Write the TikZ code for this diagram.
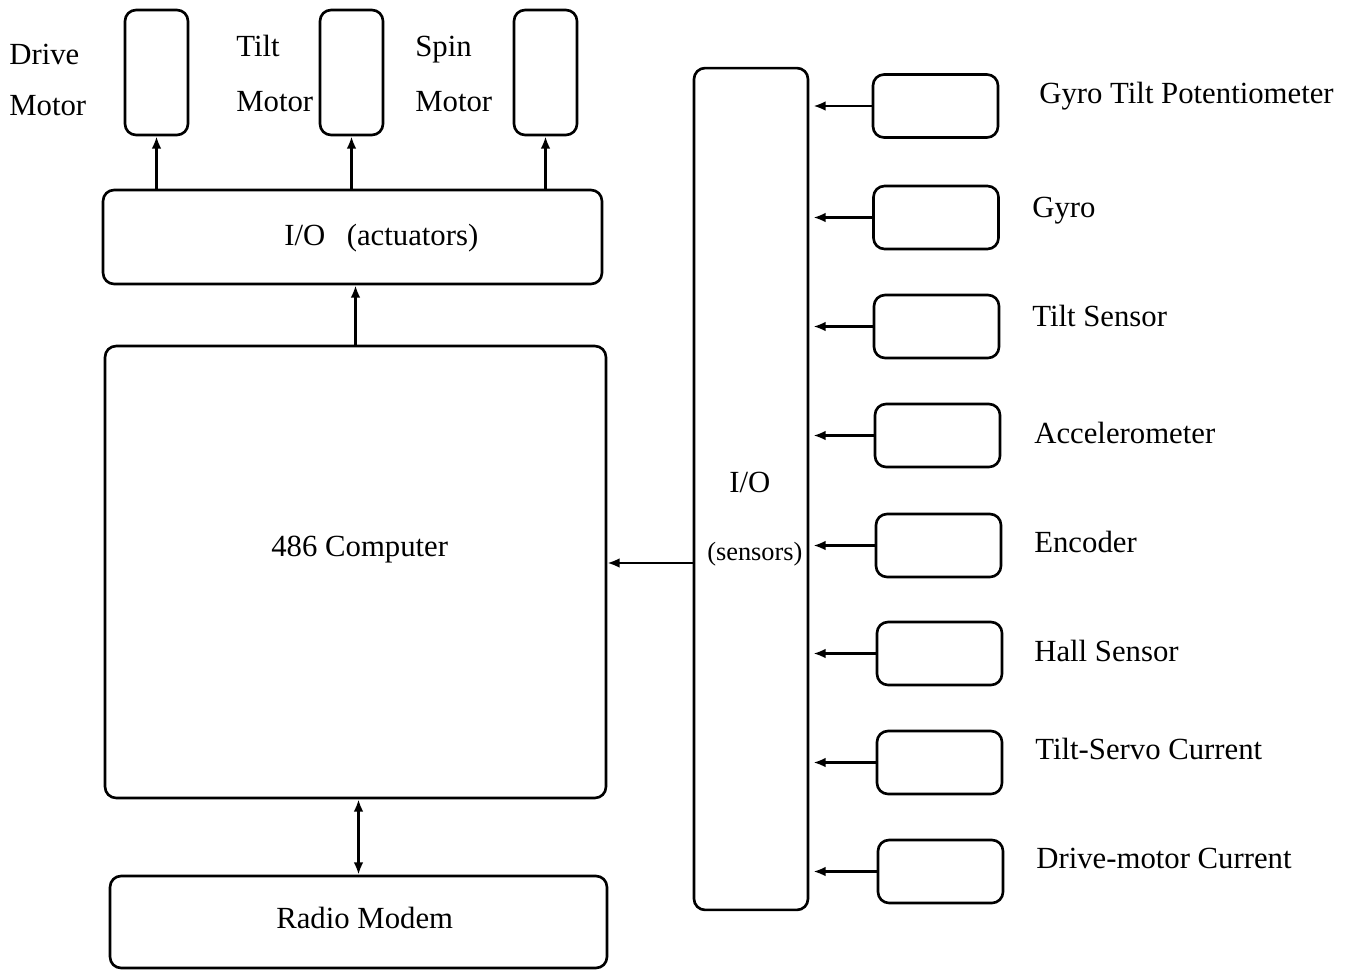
\documentclass[tikz,border=0pt]{standalone}
\usepackage{fontspec}
\setmainfont{Liberation Serif}
\usetikzlibrary{arrows.meta}
\begin{document}
\begin{tikzpicture}[x=0.02cm,y=-0.02cm,
  line width=1.5pt,
  box/.style={draw, rounded corners=0.22cm, inner sep=0pt},
  motorbox/.style={box, minimum width=1.26cm, minimum height=2.5cm},
  sensbox/.style={box, minimum width=2.5cm, minimum height=1.26cm},
  lab/.style={anchor=base west, inner sep=0pt, font=\fontsize{17.5}{20}\selectfont},
  arr/.style={-{Latex[length=7pt,width=5.5pt]}},
  darr/.style={{Latex[length=7pt,width=5.5pt]}-{Latex[length=7pt,width=5.5pt]}}]
\useasboundingbox (0,0) rectangle (1348,973);
% motors
\node[motorbox] (drive) at (156.5,72.5) {};
\node[motorbox] (tilt) at (351.5,72.5) {};
\node[motorbox] (spin) at (545.5,72.5) {};
\node[lab] (ldrive1) at (8,65) {Drive};
\node[lab] (ldrive2) at (8,116) {Motor};
\node[lab] (ltilt1) at (235,57) {Tilt};
\node[lab] (ltilt2) at (235,112) {Motor};
\node[lab] (lspin1) at (414,57) {Spin};
\node[lab] (lspin2) at (414,112) {Motor};
% actuators I/O
\node[box, minimum width=9.98cm, minimum height=1.88cm] (act) at (352.5,237) {};
\node[lab] (tact) at (283,245) {I/O\hspace{0.7em}(actuators)};
% computer
\node[box, minimum width=10.02cm, minimum height=9.04cm] (comp) at (355.5,572) {};
\node[lab] (tcomp) at (270,556) {486 Computer};
% radio
\node[box, minimum width=9.94cm, minimum height=1.84cm] (radio) at (358.5,922) {};
\node[lab] (tradio) at (275,928) {Radio Modem};
% sensors I/O
\node[box, minimum width=2.28cm, minimum height=16.84cm] (sio) at (751,489) {};
\node[lab] (tsio1) at (728,492) {I/O};
\node[lab, font=\fontsize{15}{18}\selectfont] (tsio2) at (706,560) {(sensors)};
% sensors
\node[sensbox] (s1) at (935.5,106) {};
\node[sensbox] (s2) at (936,217.5) {};
\node[sensbox] (s3) at (936.5,326.5) {};
\node[sensbox] (s4) at (937.5,435.5) {};
\node[sensbox] (s5) at (938.5,545.5) {};
\node[sensbox] (s6) at (939.5,653.5) {};
\node[sensbox] (s7) at (939.5,762.5) {};
\node[sensbox] (s8) at (940.5,871.5) {};
\node[lab] (l1) at (1038,104) {Gyro Tilt Potentiometer};
\node[lab] (l2) at (1031,217) {Gyro};
\node[lab] (l3) at (1031,326) {Tilt Sensor};
\node[lab] (l4) at (1033,443) {Accelerometer};
\node[lab] (l5) at (1033,552) {Encoder};
\node[lab] (l6) at (1033,661) {Hall Sensor};
\node[lab] (l7) at (1034,759) {Tilt-Servo Current};
\node[lab] (l8) at (1035,868) {Drive-motor Current};
% connectors
\foreach \m in {drive,tilt,spin}
  \draw[arr] (\m.south |- act.north) -- (\m.south);
\draw[arr] (comp.north) -- (comp.north |- act.south);
\draw[darr] (comp.south -| radio.north) -- (radio.north);
\draw[arr] (sio.west |- 0,563) -- (comp.east |- 0,563);
\foreach \s in {s1,s2,s3,s4,s5,s6,s7,s8}
  \draw[arr, shorten >=0.08cm] (\s.west) -- (\s.west -| sio.east);
\end{tikzpicture}
\end{document}
